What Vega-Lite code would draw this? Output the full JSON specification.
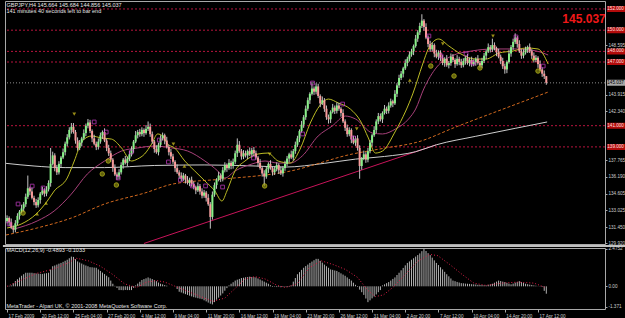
{
"$schema":"https://vega.github.io/schema/vega-lite/v6.json",
"background":"#000000",
"padding":{"left":1,"top":0,"right":0,"bottom":0},
"spacing":4,
"bounds":"flush",
"config":{"view":{"stroke":"#a8a8a8","strokeWidth":1},"font":"Liberation Sans","axis":{"grid":false,"domain":false,"labelColor":"#cfcfcf","tickColor":"#a8a8a8","labelFont":"Liberation Sans","labelFontSize":5,"tickSize":2,"labelPadding":1}},
"datasets":{
"bars":[
{"i":0,"o":132.0,"h":132.55,"l":131.8,"c":132.3,"m":0},
{"i":1,"o":132.3,"h":132.45,"l":131.55,"c":131.9,"m":0.03},
{"i":2,"o":131.9,"h":132.25,"l":131.25,"c":131.4,"m":0.06},
{"i":3,"o":131.4,"h":131.6,"l":130.9,"c":131.2,"m":0.2},
{"i":4,"o":131.2,"h":132.1,"l":130.95,"c":131.8,"m":0.35},
{"i":5,"o":131.8,"h":132.75,"l":131.6,"c":132.5,"m":0.47},
{"i":6,"o":132.5,"h":133.05,"l":132.15,"c":132.9,"m":0.58},
{"i":7,"o":132.9,"h":133.55,"l":132.75,"c":133.2,"m":0.7},
{"i":8,"o":133.2,"h":133.8,"l":132.9,"c":133.6,"m":0.8},
{"i":9,"o":133.6,"h":134.6,"l":133.35,"c":134.3,"m":0.9},
{"i":10,"o":134.3,"h":136.3,"l":134.1,"c":135.1,"m":0.9},
{"i":11,"o":135.1,"h":135.25,"l":134.45,"c":134.8,"m":0.9},
{"i":12,"o":134.8,"h":135.15,"l":134.05,"c":134.2,"m":0.9},
{"i":13,"o":134.2,"h":134.4,"l":133.5,"c":133.8,"m":0.87},
{"i":14,"o":133.8,"h":134.1,"l":133.25,"c":133.5,"m":0.85},
{"i":15,"o":133.5,"h":134.25,"l":133.3,"c":134.0,"m":0.84},
{"i":16,"o":134.0,"h":134.75,"l":133.65,"c":134.6,"m":0.83},
{"i":17,"o":134.6,"h":135.25,"l":134.45,"c":134.9,"m":0.82},
{"i":18,"o":134.9,"h":135.1,"l":134.3,"c":134.6,"m":0.85},
{"i":19,"o":134.6,"h":135.3,"l":134.35,"c":135.0,"m":0.87},
{"i":20,"o":135.0,"h":135.85,"l":134.8,"c":135.6,"m":0.9},
{"i":21,"o":135.6,"h":138.9,"l":135.25,"c":137.4,"m":1.11},
{"i":22,"o":137.4,"h":138.55,"l":137.25,"c":138.2,"m":1.33},
{"i":23,"o":138.2,"h":138.4,"l":136.7,"c":137.0,"m":1.38},
{"i":24,"o":137.0,"h":137.3,"l":136.35,"c":136.6,"m":1.44},
{"i":25,"o":136.6,"h":137.65,"l":136.4,"c":137.4,"m":1.5},
{"i":26,"o":137.4,"h":138.15,"l":137.05,"c":138.0,"m":1.55},
{"i":27,"o":138.0,"h":138.85,"l":137.85,"c":138.5,"m":1.62},
{"i":28,"o":138.5,"h":139.5,"l":138.2,"c":139.3,"m":1.69},
{"i":29,"o":139.3,"h":140.2,"l":139.05,"c":139.9,"m":1.76},
{"i":30,"o":139.9,"h":140.85,"l":139.7,"c":140.6,"m":1.86},
{"i":31,"o":140.6,"h":141.25,"l":140.25,"c":140.9,"m":1.97},
{"i":32,"o":140.9,"h":141.25,"l":140.25,"c":140.4,"m":1.95},
{"i":33,"o":140.4,"h":140.6,"l":139.3,"c":139.6,"m":1.8},
{"i":34,"o":139.6,"h":139.9,"l":138.65,"c":138.9,"m":1.65},
{"i":35,"o":138.9,"h":139.65,"l":138.7,"c":139.4,"m":1.58},
{"i":36,"o":139.4,"h":139.95,"l":139.05,"c":139.8,"m":1.51},
{"i":37,"o":139.8,"h":140.65,"l":139.65,"c":140.3,"m":1.44},
{"i":38,"o":140.3,"h":141.2,"l":140.0,"c":141.0,"m":1.38},
{"i":39,"o":141.0,"h":141.63,"l":140.75,"c":141.3,"m":1.33},
{"i":40,"o":141.3,"h":141.55,"l":140.3,"c":140.5,"m":1.27},
{"i":41,"o":140.5,"h":140.65,"l":139.45,"c":139.8,"m":1.26},
{"i":42,"o":139.8,"h":140.15,"l":139.15,"c":139.3,"m":1.24},
{"i":43,"o":139.3,"h":139.5,"l":138.7,"c":139.0,"m":1.23},
{"i":44,"o":139.0,"h":139.8,"l":138.75,"c":139.5,"m":1.12},
{"i":45,"o":139.5,"h":140.35,"l":139.3,"c":140.1,"m":1.02},
{"i":46,"o":140.1,"h":140.55,"l":139.75,"c":140.4,"m":0.91},
{"i":47,"o":140.4,"h":140.75,"l":139.45,"c":139.6,"m":0.81},
{"i":48,"o":139.6,"h":139.8,"l":138.6,"c":138.9,"m":0.7},
{"i":49,"o":138.9,"h":139.2,"l":138.15,"c":138.4,"m":0.6},
{"i":50,"o":138.4,"h":138.65,"l":137.6,"c":137.8,"m":0.38},
{"i":51,"o":137.8,"h":137.95,"l":136.65,"c":137.0,"m":0.17},
{"i":52,"o":137.0,"h":137.35,"l":136.25,"c":136.4,"m":0.03},
{"i":53,"o":136.4,"h":136.6,"l":135.9,"c":136.2,"m":-0.11},
{"i":54,"o":136.2,"h":136.9,"l":135.95,"c":136.6,"m":-0.25},
{"i":55,"o":136.6,"h":137.55,"l":136.4,"c":137.3,"m":-0.25},
{"i":56,"o":137.3,"h":137.95,"l":136.95,"c":137.8,"m":-0.26},
{"i":57,"o":137.8,"h":138.15,"l":137.35,"c":137.5,"m":-0.24},
{"i":58,"o":137.5,"h":138.1,"l":137.2,"c":137.9,"m":-0.25},
{"i":59,"o":137.9,"h":138.6,"l":137.65,"c":138.3,"m":-0.25},
{"i":60,"o":138.3,"h":139.05,"l":138.1,"c":138.8,"m":-0.25},
{"i":61,"o":138.8,"h":139.65,"l":138.45,"c":139.5,"m":-0.1},
{"i":62,"o":139.5,"h":140.5,"l":139.35,"c":140.1,"m":0.06},
{"i":63,"o":140.1,"h":140.6,"l":139.8,"c":140.4,"m":0.18},
{"i":64,"o":140.4,"h":140.7,"l":139.95,"c":140.2,"m":0.3},
{"i":65,"o":140.2,"h":140.85,"l":140.0,"c":140.6,"m":0.42},
{"i":66,"o":140.6,"h":140.75,"l":139.95,"c":140.3,"m":0.48},
{"i":67,"o":140.3,"h":141.05,"l":140.15,"c":140.7,"m":0.53},
{"i":68,"o":140.7,"h":141.4,"l":140.5,"c":140.9,"m":0.59},
{"i":69,"o":140.9,"h":141.2,"l":139.95,"c":140.2,"m":0.53},
{"i":70,"o":140.2,"h":140.45,"l":139.3,"c":139.5,"m":0.48},
{"i":71,"o":139.5,"h":139.65,"l":138.45,"c":138.8,"m":0.42},
{"i":72,"o":138.8,"h":139.15,"l":138.35,"c":138.5,"m":0.34},
{"i":73,"o":138.5,"h":139.4,"l":138.2,"c":139.2,"m":0.25},
{"i":74,"o":139.2,"h":140.1,"l":138.95,"c":139.8,"m":0.17},
{"i":75,"o":139.8,"h":140.35,"l":139.6,"c":140.1,"m":0.13},
{"i":76,"o":140.1,"h":140.25,"l":139.25,"c":139.6,"m":0.08},
{"i":77,"o":139.6,"h":139.95,"l":138.85,"c":139.0,"m":0.04},
{"i":78,"o":139.0,"h":139.2,"l":138.2,"c":138.5,"m":0.0},
{"i":79,"o":138.5,"h":138.8,"l":137.85,"c":138.1,"m":0.0},
{"i":80,"o":138.1,"h":138.35,"l":137.4,"c":137.6,"m":0.0},
{"i":81,"o":137.6,"h":137.75,"l":136.65,"c":137.0,"m":0.0},
{"i":82,"o":137.0,"h":137.35,"l":136.45,"c":136.6,"m":-0.18},
{"i":83,"o":136.6,"h":136.8,"l":136.0,"c":136.3,"m":-0.36},
{"i":84,"o":136.3,"h":136.6,"l":135.75,"c":136.0,"m":-0.41},
{"i":85,"o":136.0,"h":136.55,"l":135.8,"c":136.3,"m":-0.47},
{"i":86,"o":136.3,"h":136.45,"l":135.55,"c":135.9,"m":-0.52},
{"i":87,"o":135.9,"h":136.25,"l":135.45,"c":135.6,"m":-0.57},
{"i":88,"o":135.6,"h":136.1,"l":135.3,"c":135.9,"m":-0.62},
{"i":89,"o":135.9,"h":136.2,"l":135.25,"c":135.5,"m":-0.67},
{"i":90,"o":135.5,"h":135.75,"l":135.0,"c":135.2,"m":-0.72},
{"i":91,"o":135.2,"h":135.35,"l":134.55,"c":134.9,"m":-0.75},
{"i":92,"o":134.9,"h":135.65,"l":134.75,"c":135.3,"m":-0.79},
{"i":93,"o":135.3,"h":135.5,"l":134.5,"c":134.8,"m":-0.82},
{"i":94,"o":134.8,"h":135.1,"l":134.15,"c":134.4,"m":-0.85},
{"i":95,"o":134.4,"h":134.95,"l":134.2,"c":134.7,"m":-0.93},
{"i":96,"o":134.7,"h":134.85,"l":133.85,"c":134.2,"m":-1.0},
{"i":97,"o":134.2,"h":134.55,"l":133.45,"c":133.6,"m":-1.08},
{"i":98,"o":133.6,"h":133.8,"l":131.3,"c":132.4,"m":-1.15},
{"i":99,"o":132.4,"h":134.8,"l":132.15,"c":134.5,"m":-1.2},
{"i":100,"o":134.5,"h":135.65,"l":134.3,"c":135.4,"m":-1.05},
{"i":101,"o":135.4,"h":136.05,"l":135.05,"c":135.9,"m":-0.89},
{"i":102,"o":135.9,"h":136.65,"l":135.75,"c":136.3,"m":-0.75},
{"i":103,"o":136.3,"h":136.5,"l":135.7,"c":136.0,"m":-0.61},
{"i":104,"o":136.0,"h":137.1,"l":135.75,"c":136.8,"m":-0.47},
{"i":105,"o":136.8,"h":137.55,"l":136.6,"c":137.3,"m":-0.29},
{"i":106,"o":137.3,"h":137.45,"l":136.65,"c":137.0,"m":-0.12},
{"i":107,"o":137.0,"h":137.85,"l":136.85,"c":137.5,"m":0.06},
{"i":108,"o":137.5,"h":137.7,"l":136.9,"c":137.2,"m":0.17},
{"i":109,"o":137.2,"h":137.9,"l":136.95,"c":137.6,"m":0.27},
{"i":110,"o":137.6,"h":138.65,"l":137.4,"c":138.4,"m":0.38},
{"i":111,"o":138.4,"h":139.8,"l":138.05,"c":139.2,"m":0.44},
{"i":112,"o":139.2,"h":139.55,"l":138.45,"c":138.6,"m":0.49},
{"i":113,"o":138.6,"h":138.8,"l":137.8,"c":138.1,"m":0.55},
{"i":114,"o":138.1,"h":138.7,"l":137.85,"c":138.4,"m":0.57},
{"i":115,"o":138.4,"h":138.65,"l":138.0,"c":138.2,"m":0.6},
{"i":116,"o":138.2,"h":138.75,"l":137.85,"c":138.6,"m":0.62},
{"i":117,"o":138.6,"h":138.95,"l":138.15,"c":138.3,"m":0.64},
{"i":118,"o":138.3,"h":138.9,"l":138.0,"c":138.7,"m":0.62},
{"i":119,"o":138.7,"h":139.0,"l":138.15,"c":138.4,"m":0.61},
{"i":120,"o":138.4,"h":138.65,"l":137.8,"c":138.0,"m":0.59},
{"i":121,"o":138.0,"h":138.15,"l":137.15,"c":137.5,"m":0.52},
{"i":122,"o":137.5,"h":137.85,"l":136.85,"c":137.0,"m":0.45},
{"i":123,"o":137.0,"h":137.2,"l":136.2,"c":136.5,"m":0.38},
{"i":124,"o":136.5,"h":136.8,"l":135.3,"c":136.2,"m":0.31},
{"i":125,"o":136.2,"h":137.15,"l":136.0,"c":136.9,"m":0.24},
{"i":126,"o":136.9,"h":137.55,"l":136.55,"c":137.4,"m":0.17},
{"i":127,"o":137.4,"h":137.75,"l":136.85,"c":137.0,"m":0.07},
{"i":128,"o":137.0,"h":137.2,"l":136.3,"c":136.6,"m":-0.04},
{"i":129,"o":136.6,"h":137.2,"l":136.35,"c":136.9,"m":-0.03},
{"i":130,"o":136.9,"h":137.55,"l":136.7,"c":137.3,"m":-0.05},
{"i":131,"o":137.3,"h":137.45,"l":136.45,"c":136.8,"m":-0.04},
{"i":132,"o":136.8,"h":137.15,"l":136.35,"c":136.5,"m":-0.06},
{"i":133,"o":136.5,"h":137.2,"l":136.2,"c":137.0,"m":-0.04},
{"i":134,"o":137.0,"h":137.7,"l":136.75,"c":137.4,"m":-0.03},
{"i":135,"o":137.4,"h":138.15,"l":137.2,"c":137.9,"m":-0.05},
{"i":136,"o":137.9,"h":138.45,"l":137.55,"c":138.3,"m":-0.04},
{"i":137,"o":138.3,"h":138.65,"l":137.85,"c":138.0,"m":0.06},
{"i":138,"o":138.0,"h":138.8,"l":137.7,"c":138.6,"m":0.31},
{"i":139,"o":138.6,"h":139.5,"l":138.35,"c":139.2,"m":0.55},
{"i":140,"o":139.2,"h":140.05,"l":139.0,"c":139.8,"m":0.8},
{"i":141,"o":139.8,"h":140.65,"l":139.45,"c":140.5,"m":0.94},
{"i":142,"o":140.5,"h":141.45,"l":140.35,"c":141.1,"m":1.09},
{"i":143,"o":141.1,"h":142.0,"l":140.8,"c":141.8,"m":1.23},
{"i":144,"o":141.8,"h":142.9,"l":141.55,"c":142.6,"m":1.34},
{"i":145,"o":142.6,"h":143.65,"l":142.4,"c":143.4,"m":1.44},
{"i":146,"o":143.4,"h":144.15,"l":143.05,"c":144.0,"m":1.55},
{"i":147,"o":144.0,"h":145.1,"l":143.85,"c":144.5,"m":1.64},
{"i":148,"o":144.5,"h":144.7,"l":143.9,"c":144.2,"m":1.73},
{"i":149,"o":144.2,"h":145.0,"l":143.95,"c":144.7,"m":1.82},
{"i":150,"o":144.7,"h":144.95,"l":143.6,"c":143.8,"m":1.82},
{"i":151,"o":143.8,"h":143.95,"l":142.75,"c":143.1,"m":1.69},
{"i":152,"o":143.1,"h":143.75,"l":142.95,"c":143.4,"m":1.57},
{"i":153,"o":143.4,"h":143.6,"l":142.3,"c":142.6,"m":1.44},
{"i":154,"o":142.6,"h":142.9,"l":141.55,"c":141.8,"m":1.33},
{"i":155,"o":141.8,"h":142.05,"l":141.2,"c":141.6,"m":1.23},
{"i":156,"o":141.6,"h":142.45,"l":141.25,"c":142.3,"m":1.12},
{"i":157,"o":142.3,"h":143.05,"l":142.15,"c":142.7,"m":1.09},
{"i":158,"o":142.7,"h":142.9,"l":142.1,"c":142.4,"m":1.05},
{"i":159,"o":142.4,"h":143.2,"l":142.15,"c":142.9,"m":1.02},
{"i":160,"o":142.9,"h":143.15,"l":142.4,"c":142.6,"m":0.94},
{"i":161,"o":142.6,"h":142.75,"l":141.85,"c":142.2,"m":0.86},
{"i":162,"o":142.2,"h":142.55,"l":141.25,"c":141.4,"m":0.78},
{"i":163,"o":141.4,"h":141.6,"l":140.5,"c":140.8,"m":0.7},
{"i":164,"o":140.8,"h":141.1,"l":139.95,"c":140.2,"m":0.59},
{"i":165,"o":140.2,"h":140.85,"l":140.0,"c":140.6,"m":0.49},
{"i":166,"o":140.6,"h":140.75,"l":139.35,"c":139.7,"m":0.38},
{"i":167,"o":139.7,"h":140.05,"l":139.25,"c":139.4,"m":0.24},
{"i":168,"o":139.4,"h":140.0,"l":139.1,"c":139.8,"m":0.1},
{"i":169,"o":139.8,"h":140.1,"l":138.65,"c":138.9,"m":-0.04},
{"i":170,"o":138.9,"h":139.15,"l":136.0,"c":137.2,"m":-0.22},
{"i":171,"o":137.2,"h":138.05,"l":136.85,"c":137.9,"m":-0.39},
{"i":172,"o":137.9,"h":138.65,"l":137.75,"c":138.3,"m":-0.57},
{"i":173,"o":138.3,"h":138.5,"l":137.5,"c":137.8,"m":-0.81},
{"i":174,"o":137.8,"h":138.9,"l":137.55,"c":138.6,"m":-1.05},
{"i":175,"o":138.6,"h":139.65,"l":138.4,"c":139.4,"m":-0.93},
{"i":176,"o":139.4,"h":140.25,"l":139.05,"c":140.1,"m":-0.8},
{"i":177,"o":140.1,"h":140.95,"l":139.95,"c":140.6,"m":-0.68},
{"i":178,"o":140.6,"h":141.6,"l":140.3,"c":141.4,"m":-0.54},
{"i":179,"o":141.4,"h":142.2,"l":141.15,"c":141.9,"m":-0.39},
{"i":180,"o":141.9,"h":142.15,"l":141.4,"c":141.6,"m":-0.25},
{"i":181,"o":141.6,"h":142.35,"l":141.25,"c":142.2,"m":0.06},
{"i":182,"o":142.2,"h":142.95,"l":142.05,"c":142.6,"m":0.13},
{"i":183,"o":142.6,"h":142.8,"l":142.1,"c":142.4,"m":0.21},
{"i":184,"o":142.4,"h":143.2,"l":142.15,"c":142.9,"m":0.28},
{"i":185,"o":142.9,"h":143.55,"l":142.7,"c":143.3,"m":0.38},
{"i":186,"o":143.3,"h":143.45,"l":142.75,"c":143.1,"m":0.49},
{"i":187,"o":143.1,"h":144.35,"l":142.95,"c":144.0,"m":0.59},
{"i":188,"o":144.0,"h":145.0,"l":143.7,"c":144.8,"m":0.75},
{"i":189,"o":144.8,"h":145.8,"l":144.55,"c":145.5,"m":0.9},
{"i":190,"o":145.5,"h":146.15,"l":145.3,"c":145.9,"m":1.06},
{"i":191,"o":145.9,"h":146.55,"l":145.55,"c":146.4,"m":1.22},
{"i":192,"o":146.4,"h":147.25,"l":146.25,"c":146.9,"m":1.39},
{"i":193,"o":146.9,"h":147.5,"l":146.6,"c":147.3,"m":1.55},
{"i":194,"o":147.3,"h":148.0,"l":147.05,"c":147.7,"m":1.65},
{"i":195,"o":147.7,"h":148.25,"l":147.5,"c":148.0,"m":1.76},
{"i":196,"o":148.0,"h":148.65,"l":147.65,"c":148.5,"m":1.86},
{"i":197,"o":148.5,"h":149.55,"l":148.35,"c":149.2,"m":1.97},
{"i":198,"o":149.2,"h":150.0,"l":148.9,"c":149.8,"m":2.07},
{"i":199,"o":149.8,"h":150.7,"l":149.55,"c":150.4,"m":2.18},
{"i":200,"o":150.4,"h":151.5,"l":150.2,"c":150.9,"m":2.33},
{"i":201,"o":150.9,"h":151.05,"l":149.95,"c":150.3,"m":2.4752},
{"i":202,"o":150.3,"h":150.65,"l":149.15,"c":149.3,"m":2.34},
{"i":203,"o":149.3,"h":149.5,"l":148.4,"c":148.7,"m":2.2},
{"i":204,"o":148.7,"h":149.0,"l":147.95,"c":148.2,"m":2.07},
{"i":205,"o":148.2,"h":148.85,"l":148.0,"c":148.6,"m":1.9},
{"i":206,"o":148.6,"h":148.75,"l":147.45,"c":147.8,"m":1.72},
{"i":207,"o":147.8,"h":148.15,"l":147.35,"c":147.5,"m":1.55},
{"i":208,"o":147.5,"h":148.1,"l":147.2,"c":147.9,"m":1.41},
{"i":209,"o":147.9,"h":148.1,"l":147.1,"c":147.4,"m":1.26},
{"i":210,"o":147.4,"h":147.65,"l":146.7,"c":146.9,"m":1.12},
{"i":211,"o":146.9,"h":147.45,"l":146.55,"c":147.3,"m":0.96},
{"i":212,"o":147.3,"h":147.65,"l":146.55,"c":146.7,"m":0.8},
{"i":213,"o":146.7,"h":147.1,"l":146.4,"c":146.9,"m":0.66},
{"i":214,"o":146.9,"h":147.8,"l":146.65,"c":147.5,"m":0.52},
{"i":215,"o":147.5,"h":147.75,"l":147.0,"c":147.2,"m":0.38},
{"i":216,"o":147.2,"h":147.35,"l":146.45,"c":146.8,"m":0.34},
{"i":217,"o":146.8,"h":147.65,"l":146.65,"c":147.3,"m":0.29},
{"i":218,"o":147.3,"h":147.5,"l":146.7,"c":147.0,"m":0.25},
{"i":219,"o":147.0,"h":147.3,"l":146.45,"c":146.7,"m":0.21},
{"i":220,"o":146.7,"h":147.35,"l":146.5,"c":147.1,"m":0.2},
{"i":221,"o":147.1,"h":147.55,"l":146.75,"c":147.4,"m":0.18},
{"i":222,"o":147.4,"h":147.75,"l":146.75,"c":146.9,"m":0.17},
{"i":223,"o":146.9,"h":147.4,"l":146.6,"c":147.2,"m":0.16},
{"i":224,"o":147.2,"h":147.5,"l":146.55,"c":146.8,"m":0.14},
{"i":225,"o":146.8,"h":147.25,"l":146.6,"c":147.0,"m":0.13},
{"i":226,"o":147.0,"h":147.45,"l":146.65,"c":147.3,"m":0.12},
{"i":227,"o":147.3,"h":147.65,"l":146.75,"c":146.9,"m":0.1},
{"i":228,"o":146.9,"h":147.1,"l":146.4,"c":146.7,"m":0.09},
{"i":229,"o":146.7,"h":147.4,"l":146.45,"c":147.1,"m":0.08},
{"i":230,"o":147.1,"h":147.85,"l":146.9,"c":147.6,"m":0.07},
{"i":231,"o":147.6,"h":148.15,"l":147.25,"c":148.0,"m":0.06},
{"i":232,"o":148.0,"h":148.75,"l":147.85,"c":148.4,"m":0.1},
{"i":233,"o":148.4,"h":148.6,"l":147.9,"c":148.2,"m":0.13},
{"i":234,"o":148.2,"h":149.2,"l":147.95,"c":148.6,"m":0.17},
{"i":235,"o":148.6,"h":148.85,"l":148.1,"c":148.3,"m":0.24},
{"i":236,"o":148.3,"h":148.45,"l":147.55,"c":147.9,"m":0.31},
{"i":237,"o":147.9,"h":148.25,"l":147.35,"c":147.5,"m":0.38},
{"i":238,"o":147.5,"h":147.7,"l":146.8,"c":147.1,"m":0.35},
{"i":239,"o":147.1,"h":147.4,"l":146.35,"c":146.6,"m":0.31},
{"i":240,"o":146.6,"h":146.85,"l":145.9,"c":146.3,"m":0.28},
{"i":241,"o":146.3,"h":147.15,"l":145.95,"c":147.0,"m":0.23},
{"i":242,"o":147.0,"h":148.15,"l":146.85,"c":147.8,"m":0.18},
{"i":243,"o":147.8,"h":148.6,"l":147.5,"c":148.4,"m":0.13},
{"i":244,"o":148.4,"h":149.2,"l":148.15,"c":148.9,"m":0.18},
{"i":245,"o":148.9,"h":149.7,"l":148.7,"c":149.3,"m":0.24},
{"i":246,"o":149.3,"h":149.45,"l":148.35,"c":148.7,"m":0.29},
{"i":247,"o":148.7,"h":149.05,"l":147.85,"c":148.0,"m":0.34},
{"i":248,"o":148.0,"h":148.2,"l":147.3,"c":147.6,"m":0.28},
{"i":249,"o":147.6,"h":148.2,"l":147.35,"c":147.9,"m":0.23},
{"i":250,"o":147.9,"h":148.45,"l":147.7,"c":148.2,"m":0.17},
{"i":251,"o":148.2,"h":148.55,"l":147.85,"c":148.4,"m":0.14},
{"i":252,"o":148.4,"h":148.75,"l":147.85,"c":148.0,"m":0.11},
{"i":253,"o":148.0,"h":148.2,"l":147.3,"c":147.6,"m":0.09},
{"i":254,"o":147.6,"h":147.9,"l":146.95,"c":147.2,"m":0.06},
{"i":255,"o":147.2,"h":147.65,"l":147.0,"c":147.4,"m":0.04},
{"i":256,"o":147.4,"h":147.55,"l":146.45,"c":146.8,"m":0.01},
{"i":257,"o":146.8,"h":147.15,"l":146.15,"c":146.3,"m":-0.02},
{"i":258,"o":146.3,"h":146.5,"l":145.6,"c":145.9,"m":-0.04},
{"i":259,"o":145.9,"h":146.2,"l":145.4,"c":145.66,"m":-0.3},
{"i":260,"o":145.664,"h":145.684,"l":144.856,"c":145.037,"m":-0.4893}
],
"sig":[
{"i":0,"v":0},{"i":6.3,"v":0.38},{"i":14,"v":0.85},{"i":21.8,"v":1.12},{"i":29.5,"v":1.55},{"i":33.4,"v":1.86},{"i":39.2,"v":1.69},{"i":45,"v":1.33},{"i":50.8,"v":0.8},{"i":56.6,"v":0.17},{"i":62.4,"v":-0.08},{"i":67.3,"v":0.28},{"i":72.1,"v":0.38},{"i":76,"v":0.28},{"i":81.8,"v":-0.04},{"i":87.6,"v":-0.36},{"i":93.4,"v":-0.68},{"i":99.2,"v":-1.0},{"i":105,"v":-0.78},{"i":109.9,"v":-0.15},{"i":114.7,"v":0.49},{"i":119.5,"v":0.64},{"i":124.4,"v":0.49},{"i":130.2,"v":0.06},{"i":134.1,"v":-0.08},{"i":139.9,"v":0.17},{"i":145.7,"v":1.23},{"i":151.5,"v":1.69},{"i":157.3,"v":1.44},{"i":163.1,"v":1.12},{"i":169,"v":0.59},{"i":173.8,"v":-0.25},{"i":177.6,"v":-0.68},{"i":181.5,"v":-0.57},{"i":186.3,"v":-0.04},{"i":192.1,"v":0.8},{"i":197.9,"v":1.65},{"i":203.8,"v":2.12},{"i":207.7,"v":2.03},{"i":213.5,"v":1.44},{"i":219.3,"v":0.8},{"i":225.1,"v":0.21},{"i":230.9,"v":0.06},{"i":238.6,"v":0.21},{"i":246.4,"v":0.28},{"i":254.1,"v":0.21},{"i":260,"v":-0.1033}
],
"ma200":[
{"i":-0.5,"p":137.45},{"i":13,"p":137.2},{"i":28,"p":137.05},{"i":47,"p":137.05},{"i":71,"p":137.25},{"i":95,"p":137.3},{"i":120,"p":137.2},{"i":134,"p":137.1},{"i":153,"p":137.45},{"i":168,"p":137.85},{"i":182,"p":138.1},{"i":197,"p":138.55},{"i":207,"p":139.2},{"i":226,"p":140.0},{"i":245,"p":140.75},{"i":260.4,"p":141.35}
],
"ma100":[
{"i":-0.5,"p":130.7},{"i":14.5,"p":131.36},{"i":31,"p":132.3},{"i":47,"p":133.62},{"i":66.3,"p":134.65},{"i":79.9,"p":135.5},{"i":104.1,"p":135.97},{"i":128.3,"p":136.45},{"i":134.1,"p":136.63},{"i":166.5,"p":138.33},{"i":182.5,"p":138.9},{"i":198,"p":139.46},{"i":216.4,"p":140.88},{"i":240.6,"p":142.67},{"i":260.9,"p":144.17}
],
"maY":[
{"i":0,"p":131.36},{"i":6.8,"p":131.73},{"i":14,"p":132.67},{"i":19.4,"p":133.9},{"i":22.7,"p":134.84},{"i":29,"p":136.07},{"i":32.4,"p":137.67},{"i":36.3,"p":139.56},{"i":40.7,"p":140.03},{"i":45.5,"p":139.84},{"i":50.3,"p":139.74},{"i":55.2,"p":138.9},{"i":60,"p":137.67},{"i":62.9,"p":137.86},{"i":66.3,"p":138.33},{"i":69.7,"p":139.27},{"i":72.6,"p":140.22},{"i":75,"p":140.03},{"i":77.4,"p":139.27},{"i":80.8,"p":138.9},{"i":85.7,"p":137.67},{"i":90.5,"p":136.73},{"i":95.4,"p":135.79},{"i":100.2,"p":134.84},{"i":103.6,"p":133.9},{"i":106,"p":134.84},{"i":109.9,"p":136.73},{"i":114.7,"p":137.67},{"i":121,"p":138.33},{"i":125.8,"p":138.42},{"i":130.7,"p":137.67},{"i":136.5,"p":137.48},{"i":141.3,"p":138.8},{"i":146.2,"p":141.25},{"i":151,"p":142.95},{"i":154.9,"p":143.51},{"i":159.7,"p":143.14},{"i":165.5,"p":142.57},{"i":170.4,"p":141.44},{"i":174.2,"p":139.84},{"i":177.6,"p":138.42},{"i":181,"p":138.61},{"i":187.3,"p":140.5},{"i":192.2,"p":142.38},{"i":195.6,"p":143.99},{"i":200.4,"p":146.81},{"i":203.3,"p":148.32},{"i":208.1,"p":149.17},{"i":213,"p":148.51},{"i":218.8,"p":147.76},{"i":226,"p":147.28},{"i":230.9,"p":147.28},{"i":237.2,"p":147.85},{"i":244,"p":148.04},{"i":250.2,"p":148.32},{"i":256,"p":148.23},{"i":260.9,"p":146.81}
],
"maP":[
{"i":3.4,"p":131.26},{"i":14.5,"p":132.02},{"i":22.7,"p":132.96},{"i":31,"p":134.56},{"i":38.7,"p":136.45},{"i":47,"p":137.67},{"i":55.2,"p":138.61},{"i":62.9,"p":138.9},{"i":71.2,"p":139.08},{"i":79.4,"p":138.9},{"i":87.1,"p":138.61},{"i":95.4,"p":137.67},{"i":101.6,"p":136.73},{"i":105,"p":136.07},{"i":109.9,"p":136.73},{"i":118.1,"p":137.39},{"i":124.4,"p":137.67},{"i":130.7,"p":137.48},{"i":136.5,"p":137.48},{"i":142.3,"p":138.14},{"i":150,"p":140.03},{"i":156.8,"p":140.97},{"i":163.1,"p":141.91},{"i":168,"p":141.63},{"i":176.2,"p":140.31},{"i":181,"p":140.22},{"i":187.3,"p":140.69},{"i":193.6,"p":141.63},{"i":197,"p":142.57},{"i":200.9,"p":144.46},{"i":207.2,"p":146.53},{"i":214.4,"p":147.57},{"i":224.1,"p":148.04},{"i":234.8,"p":148.23},{"i":245.4,"p":148.23},{"i":255.1,"p":148.04},{"i":260.9,"p":147.66}
],
"lv":[
{"p":152,"t":"152.000"},{"p":150,"t":"150.000"},{"p":148,"t":"148.000"},{"p":147,"t":"147.000"},{"p":141,"t":"141.000"},{"p":139,"t":"139.000"}
],
"pts":[
{"i":7.7,"p":132.77,"k":"c"},{"i":45.9,"p":136.45,"k":"c"},{"i":48.8,"p":137.67,"k":"c"},{"i":52.7,"p":135.41,"k":"c"},{"i":124.2,"p":135.32,"k":"c"},{"i":204.3,"p":146.62,"k":"c"},{"i":215.5,"p":145.68,"k":"c"},{"i":228,"p":146.44,"k":"c"},{"i":256,"p":146.15,"k":"c"},
{"i":32.4,"p":142.1,"k":"d"},{"i":80.2,"p":139.27,"k":"d"},{"i":126.6,"p":138.33,"k":"d"},{"i":168.6,"p":140.69,"k":"d"},{"i":210.1,"p":148.7,"k":"d"},{"i":234.3,"p":149.45,"k":"d"},{"i":253.6,"p":147.19,"k":"d"},
{"i":14.5,"p":132.7,"k":"u"},{"i":18.8,"p":133.7,"k":"u"},{"i":85.5,"p":137.2,"k":"u"},{"i":194.2,"p":145.3,"k":"u"},
{"i":1,"p":131.73,"k":"s"},{"i":5.3,"p":133.62,"k":"s"},{"i":12.1,"p":135.31,"k":"s"},{"i":17.4,"p":135.13,"k":"s"},{"i":42,"p":141.35,"k":"s"},{"i":47.8,"p":140.4,"k":"s"},{"i":53.6,"p":136.07,"k":"s"},{"i":59.9,"p":138.52,"k":"s"},{"i":73.4,"p":139.65,"k":"s"},{"i":77.8,"p":137.58,"k":"s"},{"i":83.6,"p":135.88,"k":"s"},{"i":89.4,"p":135.32,"k":"s"},{"i":95.7,"p":135.32,"k":"s"},{"i":103.9,"p":135.22,"k":"s"},{"i":118.8,"p":137.95,"k":"s"},{"i":142.5,"p":140.22,"k":"s"},{"i":147.3,"p":145.02,"k":"s"},{"i":161.8,"p":143.04,"k":"s"},{"i":167.1,"p":139.84,"k":"s"},{"i":203.4,"p":149.45,"k":"s"},{"i":209.2,"p":147.57,"k":"s"},{"i":221.3,"p":147.76,"k":"s"},{"i":224.6,"p":146.91,"k":"s"},{"i":245.4,"p":149.36,"k":"s"},{"i":258.5,"p":146.62,"k":"s"}
]
},
"vconcat":[
{"width":600,"height":243,
"resolve":{"axis":{"y":"independent","x":"independent"}},
"layer":[
{"data":{"name":"lv"},"mark":{"type":"rule","color":"#b8143e","strokeDash":[2,2],"strokeWidth":1},
 "encoding":{"y":{"field":"p","type":"quantitative","scale":{"domain":[129.85,152.75],"nice":false,"zero":false},"axis":{"orient":"right","values":[129.92,131.45,133.025,134.605,136.19,137.765,142.34,143.915,148.595],"format":".3f","title":null,"labelColor":"#cfcfcf","labelFontSize":4.6,"labelPadding":1,"tickSize":2,"tickColor":"#a8a8a8","domain":false,"grid":false}}}},
{"data":{"values":[{"p":145.037}]},"mark":{"type":"rule","color":"#8c8c8c","strokeDash":[1,2]},
 "encoding":{"y":{"field":"p","type":"quantitative","scale":{"domain":[129.85,152.75],"nice":false,"zero":false},"axis":null}}},
{"data":{"values":[{"i":66,"p":129.9},{"i":207,"p":139.2}]},"mark":{"type":"line","color":"#c8145a","strokeWidth":1},
 "encoding":{"x":{"field":"i","type":"quantitative","scale":{"domain":[-1,288.3],"nice":false,"zero":false},"axis":null},"y":{"field":"p","type":"quantitative","scale":{"domain":[129.85,152.75],"nice":false,"zero":false},"axis":null}}},
{"data":{"name":"ma200"},"mark":{"type":"line","color":"#cdcdcd","strokeWidth":1,"interpolate":"monotone"},
 "encoding":{"x":{"field":"i","type":"quantitative","scale":{"domain":[-1,288.3],"nice":false,"zero":false},"axis":null},"y":{"field":"p","type":"quantitative","scale":{"domain":[129.85,152.75],"nice":false,"zero":false},"axis":null}}},
{"data":{"name":"ma100"},"mark":{"type":"line","color":"#d2691e","strokeWidth":1,"strokeDash":[3,2],"interpolate":"monotone"},
 "encoding":{"x":{"field":"i","type":"quantitative","scale":{"domain":[-1,288.3],"nice":false,"zero":false},"axis":null},"y":{"field":"p","type":"quantitative","scale":{"domain":[129.85,152.75],"nice":false,"zero":false},"axis":null}}},
{"data":{"name":"maP"},"mark":{"type":"line","color":"#a8407a","strokeWidth":1,"interpolate":"monotone"},
 "encoding":{"x":{"field":"i","type":"quantitative","scale":{"domain":[-1,288.3],"nice":false,"zero":false},"axis":null},"y":{"field":"p","type":"quantitative","scale":{"domain":[129.85,152.75],"nice":false,"zero":false},"axis":null}}},
{"data":{"name":"maY"},"mark":{"type":"line","color":"#bcbc24","strokeWidth":1,"interpolate":"monotone"},
 "encoding":{"x":{"field":"i","type":"quantitative","scale":{"domain":[-1,288.3],"nice":false,"zero":false},"axis":null},"y":{"field":"p","type":"quantitative","scale":{"domain":[129.85,152.75],"nice":false,"zero":false},"axis":null}}},
{"data":{"name":"bars"},"mark":{"type":"rule","color":"#c4c4c4","strokeWidth":1},
 "encoding":{"x":{"field":"i","type":"quantitative","scale":{"domain":[-1,288.3],"nice":false,"zero":false},"axis":null},"y":{"field":"l","type":"quantitative","scale":{"domain":[129.85,152.75],"nice":false,"zero":false},"axis":null},"y2":{"field":"h"}}},
{"data":{"name":"bars"},"mark":{"type":"rule","strokeWidth":2},
 "encoding":{"x":{"field":"i","type":"quantitative","scale":{"domain":[-1,288.3],"nice":false,"zero":false},"axis":null},"y":{"field":"o","type":"quantitative","scale":{"domain":[129.85,152.75],"nice":false,"zero":false},"axis":null},"y2":{"field":"c"},
 "color":{"condition":{"test":"datum.c >= datum.o","value":"#88f088"},"value":"#f89a9a"}}},
{"data":{"name":"pts"},"transform":[{"filter":"datum.k == 's'"}],"mark":{"type":"point","shape":"square","size":14,"filled":false,"color":"#d040d0","strokeWidth":1},
 "encoding":{"x":{"field":"i","type":"quantitative","scale":{"domain":[-1,288.3],"nice":false,"zero":false},"axis":null},"y":{"field":"p","type":"quantitative","scale":{"domain":[129.85,152.75],"nice":false,"zero":false},"axis":null}}},
{"data":{"name":"pts"},"transform":[{"filter":"datum.k == 'c'"}],"mark":{"type":"point","shape":"circle","size":20,"filled":true,"fill":"#8a8a10","stroke":"#d8d820","strokeWidth":1},
 "encoding":{"x":{"field":"i","type":"quantitative","scale":{"domain":[-1,288.3],"nice":false,"zero":false},"axis":null},"y":{"field":"p","type":"quantitative","scale":{"domain":[129.85,152.75],"nice":false,"zero":false},"axis":null}}},
{"data":{"name":"pts"},"transform":[{"filter":"datum.k == 'd'"}],"mark":{"type":"point","shape":"triangle-down","size":14,"filled":true,"color":"#d8c820"},
 "encoding":{"x":{"field":"i","type":"quantitative","scale":{"domain":[-1,288.3],"nice":false,"zero":false},"axis":null},"y":{"field":"p","type":"quantitative","scale":{"domain":[129.85,152.75],"nice":false,"zero":false},"axis":null}}},
{"data":{"name":"pts"},"transform":[{"filter":"datum.k == 'u'"}],"mark":{"type":"point","shape":"triangle-up","size":14,"filled":true,"color":"#d8c820"},
 "encoding":{"x":{"field":"i","type":"quantitative","scale":{"domain":[-1,288.3],"nice":false,"zero":false},"axis":null},"y":{"field":"p","type":"quantitative","scale":{"domain":[129.85,152.75],"nice":false,"zero":false},"axis":null}}},
{"data":{"values":[{"i":-0.3,"p":152.42,"t":"GBPJPY,H4  145.664 145.684 144.856 145.037"},{"i":-0.3,"p":151.8,"t":"141 minutes 40 seconds left to bar end"}]},
 "mark":{"type":"text","align":"left","baseline":"middle","fontSize":5.5,"color":"#e6e6e6","font":"Liberation Sans"},
 "encoding":{"x":{"field":"i","type":"quantitative","scale":{"domain":[-1,288.3],"nice":false,"zero":false},"axis":null},"y":{"field":"p","type":"quantitative","scale":{"domain":[129.85,152.75],"nice":false,"zero":false},"axis":null},"text":{"field":"t"}}},
{"data":{"values":[{"i":278.2,"p":151.05,"t":"145.037"}]},
 "mark":{"type":"text","align":"center","baseline":"middle","fontSize":12,"fontWeight":"bold","color":"#f01818","font":"Liberation Sans"},
 "encoding":{"x":{"field":"i","type":"quantitative","scale":{"domain":[-1,288.3],"nice":false,"zero":false},"axis":null},"y":{"field":"p","type":"quantitative","scale":{"domain":[129.85,152.75],"nice":false,"zero":false},"axis":null},"text":{"field":"t"}}},
{"data":{"name":"lv"},"mark":{"type":"tick","orient":"horizontal","size":34,"thickness":6,"color":"#ff1010","clip":false},
 "encoding":{"x":{"datum":297.5,"type":"quantitative","scale":{"domain":[-1,288.3],"nice":false,"zero":false},"axis":null},"y":{"field":"p","type":"quantitative","scale":{"domain":[129.85,152.75],"nice":false,"zero":false},"axis":null}}},
{"data":{"name":"lv"},"mark":{"type":"text","align":"left","baseline":"middle","fontSize":4.6,"color":"#ffe0e0","font":"Liberation Sans","clip":false},
 "encoding":{"x":{"datum":289.4,"type":"quantitative","scale":{"domain":[-1,288.3],"nice":false,"zero":false},"axis":null},"y":{"field":"p","type":"quantitative","scale":{"domain":[129.85,152.75],"nice":false,"zero":false},"axis":null},"text":{"field":"t"}}},
{"data":{"values":[{"p":145.037,"t":"145.037"}]},"mark":{"type":"tick","orient":"horizontal","size":34,"thickness":6,"color":"#f0f0f0","clip":false},
 "encoding":{"x":{"datum":297.5,"type":"quantitative","scale":{"domain":[-1,288.3],"nice":false,"zero":false},"axis":null},"y":{"field":"p","type":"quantitative","scale":{"domain":[129.85,152.75],"nice":false,"zero":false},"axis":null}}},
{"data":{"values":[{"p":145.037,"t":"145.037"}]},"mark":{"type":"text","align":"left","baseline":"middle","fontSize":4.6,"color":"#000000","font":"Liberation Sans","clip":false},
 "encoding":{"x":{"datum":289.4,"type":"quantitative","scale":{"domain":[-1,288.3],"nice":false,"zero":false},"axis":null},"y":{"field":"p","type":"quantitative","scale":{"domain":[129.85,152.75],"nice":false,"zero":false},"axis":null},"text":{"field":"t"}}},
{"data":{"values":[{"p":129.66}]},"mark":{"type":"rule","color":"#c0c0c0","strokeWidth":2,"clip":false},
 "encoding":{"x":{"datum":-2,"type":"quantitative","scale":{"domain":[-1,288.3],"nice":false,"zero":false},"axis":null},"x2":{"datum":300},"y":{"field":"p","type":"quantitative","scale":{"domain":[129.85,152.75],"nice":false,"zero":false},"axis":null}}}
]},
{"width":600,"height":61,
"resolve":{"axis":{"y":"independent","x":"independent"}},
"layer":[
{"data":{"name":"bars"},"mark":{"type":"rule","color":"#b4b4b4","strokeWidth":1},
 "encoding":{"x":{"field":"i","type":"quantitative","scale":{"domain":[-1,288.3],"nice":false,"zero":false},
   "axis":{"orient":"bottom","values":[0,16,32,48,64,80,96,112,128,144,160,176,192,208,224,240,256],
   "labelExpr":"['17 Feb 2009','20 Feb 12:00','25 Feb 04:00','27 Feb 20:00','4 Mar 12:00','9 Mar 04:00','11 Mar 20:00','16 Mar 12:00','19 Mar 04:00','23 Mar 20:00','26 Mar 12:00','31 Mar 04:00','2 Apr 20:00','7 Apr 12:00','10 Apr 04:00','14 Apr 20:00','17 Apr 12:00'][round(datum.value/16)]",
   "labelAlign":"left","labelBaseline":"top","labelFontSize":4.6,"labelPadding":1,"labelOffset":1,"tickSize":3,"labelOverlap":false,"labelBound":false,"labelFlush":false,"title":null,"labelColor":"#cfcfcf","tickColor":"#a8a8a8","domain":false,"grid":false}},
  "y":{"field":"m","type":"quantitative","scale":{"domain":[-1.504,2.54],"nice":false,"zero":false},
   "axis":{"orient":"right","values":[-1.371,0,2.4752],"labelExpr":"datum.value == 0 ? '0.00' : (datum.value > 1 ? '2.4752' : '-1.371')","title":null,"labelColor":"#cfcfcf","labelFontSize":4.6,"labelPadding":1,"tickSize":2,"tickColor":"#a8a8a8","domain":false,"grid":false}},
  "y2":{"datum":0}}},
{"data":{"name":"sig"},"mark":{"type":"line","color":"#e0204a","strokeWidth":1,"strokeDash":[1,2]},
 "encoding":{"x":{"field":"i","type":"quantitative","scale":{"domain":[-1,288.3],"nice":false,"zero":false},"axis":null},"y":{"field":"v","type":"quantitative","scale":{"domain":[-1.504,2.54],"nice":false,"zero":false},"axis":null}}},
{"data":{"values":[{"i":-0.3,"v":2.4,"t":"MACD(12,26,9) -0.4893 -0.1033"},{"i":-0.3,"v":-1.33,"t":"MetaTrader - Alpari UK, © 2001-2008 MetaQuotes Software Corp."}]},
 "mark":{"type":"text","align":"left","baseline":"middle","fontSize":5.5,"color":"#e6e6e6","font":"Liberation Sans"},
 "encoding":{"x":{"field":"i","type":"quantitative","scale":{"domain":[-1,288.3],"nice":false,"zero":false},"axis":null},"y":{"field":"v","type":"quantitative","scale":{"domain":[-1.504,2.54],"nice":false,"zero":false},"axis":null},"text":{"field":"t"}}}
]}
]
}
